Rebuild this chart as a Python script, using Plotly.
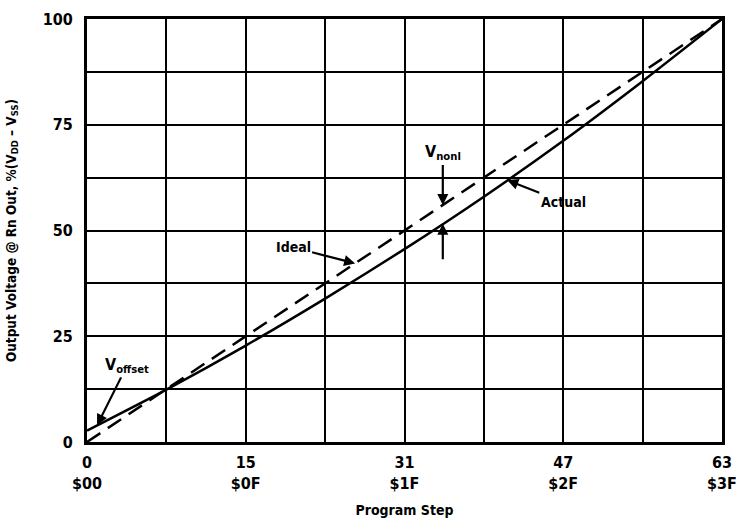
import numpy as np
import plotly.graph_objects as go

# Data
ideal_steps = [0, 63]
ideal_values = [0, 100]
actual_steps = [0, 7.875, 15.75, 23.625, 31.5, 39.375, 47.25, 55.125, 63]
actual_values = [2.7, 12.4, 22.8, 33.9, 45.6, 58.0, 71.2, 85.3, 100]

x_grid = [0, 7.875, 15.75, 23.625, 31.5, 39.375, 47.25, 55.125, 63]
x_ticktext = ["<b>0<br>$00</b>", "", "<b>15<br>$0F</b>", "", "<b>31<br>$1F</b>", "",
              "<b>47<br>$2F</b>", "", "<b>63<br>$3F</b>"]
y_grid = [0, 12.5, 25, 37.5, 50, 62.5, 75, 87.5, 100]
y_ticktext = ["<b>0</b>", "", "<b>25</b>", "", "<b>50</b>", "", "<b>75</b>", "", "<b>100</b>"]

FONT = "DejaVu Sans Condensed, Liberation Sans Narrow, sans-serif"

def actual_at(s):
    return float(np.interp(s, actual_steps, actual_values))

def ideal_at(s):
    return float(np.interp(s, ideal_steps, ideal_values))

fig = go.Figure()
fig.add_trace(go.Scatter(x=ideal_steps, y=ideal_values, mode="lines",
                         line=dict(color="black", width=2.5, dash="16px,9px"),
                         hoverinfo="skip", showlegend=False))
fig.add_trace(go.Scatter(x=actual_steps, y=actual_values, mode="lines",
                         line=dict(color="black", width=2.5, shape="spline", smoothing=0.6),
                         hoverinfo="skip", showlegend=False))

ann_font = dict(family=FONT, size=14, color="black")
sub_font = dict(family=FONT, size=16, color="black")
arrow = dict(showarrow=True, arrowhead=2, arrowsize=1, arrowwidth=2.2, arrowcolor="black",
             xref="x", yref="y", axref="pixel", ayref="pixel")

fig.add_annotation(x=26.6, y=ideal_at(26.6), text="<b>Ideal</b>", ax=-62, ay=-16, font=ann_font, **arrow)
fig.add_annotation(x=35.3, y=ideal_at(35.3), text="<b>V<sub>nonl</sub></b>", ax=0, ay=-52, font=sub_font, **arrow)
fig.add_annotation(x=35.3, y=actual_at(35.3), text="", ax=0, ay=37, font=ann_font, **arrow)
fig.add_annotation(x=41.7, y=actual_at(41.7), text="<b>Actual</b>", ax=56, ay=22, font=ann_font, **arrow)
fig.add_annotation(x=1.0, y=actual_at(1.0), text="<b>V<sub>offset</sub></b>", ax=30, ay=-60, font=sub_font, **arrow)

fig.update_xaxes(range=[0, 63], tickmode="array", tickvals=x_grid, ticktext=x_ticktext,
                 showgrid=True, gridcolor="black", gridwidth=1.5, zeroline=False,
                 showline=True, linecolor="black", linewidth=3, mirror=True, ticks="",
                 automargin=False, ticklabelstandoff=4,
                 tickfont=dict(family=FONT, size=16, color="black"),
                 title=dict(text="<b>Program Step</b>", font=dict(family=FONT, size=14, color="black"),
                            standoff=14))
fig.update_yaxes(range=[0, 100], tickmode="array", tickvals=y_grid, ticktext=y_ticktext,
                 showgrid=True, gridcolor="black", gridwidth=1.5, zeroline=False,
                 showline=True, linecolor="black", linewidth=3, mirror=True, ticks="",
                 automargin=False, ticklabelstandoff=8,
                 tickfont=dict(family=FONT, size=16, color="black"),
                 title=dict(text="<b>Output Voltage @ Rn Out, %(V<sub>DD</sub> – V<sub>SS</sub>)</b>",
                            font=dict(family=FONT, size=13.5, color="black"), standoff=24))

fig.update_layout(width=739, height=530, margin=dict(l=87, r=17, t=19, b=88),
                  paper_bgcolor="white", plot_bgcolor="white",
                  font=dict(family=FONT, color="black"))

fig.write_html("out.html", config={"displayModeBar": False},
               post_script="document.body.style.margin='0';")
